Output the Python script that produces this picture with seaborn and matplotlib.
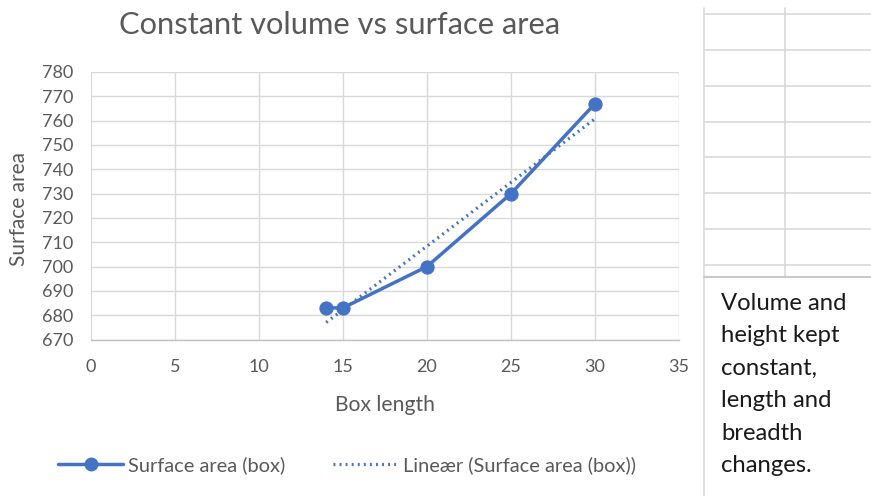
import numpy as np
import pandas as pd
import matplotlib
matplotlib.use("Agg")
import matplotlib.pyplot as plt
from matplotlib.lines import Line2D
import seaborn as sns

# ---- data ----
box_length = [14, 15, 20, 25, 30]
surface_area = [683, 683, 700, 730, 767]
x_ticks = [0, 5, 10, 15, 20, 25, 30, 35]
y_ticks = [670, 680, 690, 700, 710, 720, 730, 740, 750, 760, 770, 780]
title = "Constant volume vs surface area"
x_label = "Box length"
y_label = "Surface area"
series_name = "Surface area (box)"
trend_name = "Lineær (Surface area (box))"
note_lines = ["Volume and", "height kept", "constant,", "length and", "breadth", "changes."]

sns.set_theme(style="white")
plt.rcParams['font.family'] = ['Lato', 'DejaVu Sans']

BLUE = "#4472C4"
GRID = "#D9D9D9"
TXT = "#595959"

W, H = 871, 496
fig = plt.figure(figsize=(W / 100, H / 100), dpi=100)
fig.patch.set_facecolor("white")

left, right, top, bottom = 91, 679, 72, 339.5
ax = fig.add_axes([left / W, 1 - bottom / H, (right - left) / W, (bottom - top) / H])
ax.set_facecolor("white")

df = pd.DataFrame({"x": box_length, "y": surface_area})
# linear trend line (least squares fit of the series)
coef = np.polyfit(df["x"], df["y"], 1)
tx = np.array([min(box_length), max(box_length)])
trend = pd.DataFrame({"x": tx, "y": np.polyval(coef, tx)})

sns.lineplot(data=trend, x="x", y="y", ax=ax, color=BLUE, lw=2.3,
             linestyle=(0, (0.6, 1.3)), dash_capstyle="butt", zorder=3)
sns.lineplot(data=df, x="x", y="y", ax=ax, color=BLUE, lw=2.5, marker="o",
             markersize=9.5, markeredgecolor=BLUE, zorder=4)

ax.set_xlim(0, 35)
ax.set_ylim(670, 780)
ax.set_xticks(x_ticks)
ax.set_yticks(y_ticks)
ax.grid(True, color=GRID, lw=1.0)
ax.set_axisbelow(True)
for s in ["top", "left", "right"]:
    ax.spines[s].set_visible(False)
ax.spines["bottom"].set_color("#BFBFBF")
ax.spines["bottom"].set_linewidth(1.0)
ax.tick_params(axis="both", length=0, labelsize=13, colors=TXT)
ax.tick_params(axis="x", pad=14)
ax.tick_params(axis="y", pad=13)
ax.set_xlabel("")
ax.set_ylabel("")

fig.text(385 / W, 1 - 405 / H, x_label, ha="center", va="center", fontsize=15.2, color=TXT)
fig.text(19 / W, 1 - 209 / H, y_label, ha="center", va="center", rotation=90,
         fontsize=15, color=TXT)
fig.text(340 / W, 1 - 25 / H, title, ha="center", va="center", fontsize=22.2, color=TXT)

handles = [
    Line2D([], [], color=BLUE, lw=2.5, marker="o", markersize=9),
    Line2D([], [], color=BLUE, lw=2.3, linestyle=(0, (0.6, 1.3))),
]
leg = fig.legend(handles, [series_name, trend_name], loc="center",
                 bbox_to_anchor=(347 / W, 1 - 465 / H), ncol=2, frameon=False,
                 fontsize=14.4, handlelength=3.25, handletextpad=0.25,
                 columnspacing=2.35, labelcolor=TXT)

# spreadsheet grid & text box on the right
CELL = "#D9D9D9"
def vline(x, y0, y1, c=CELL, lw=1.2):
    fig.add_artist(Line2D([x / W, x / W], [1 - y0 / H, 1 - y1 / H], color=c, lw=lw))
def hline(y, x0, x1, c=CELL, lw=1.2):
    fig.add_artist(Line2D([x0 / W, x1 / W], [1 - y / H, 1 - y / H], color=c, lw=lw))

vline(704, 8, 496)
vline(785, 8, 277)
for yy in [14, 50, 86, 122, 157, 193, 229, 265]:
    hline(yy, 704, 871)
hline(277, 704, 871, c="#BFBFBF")

for i, line in enumerate(note_lines):
    fig.text(721 / W, 1 - (303 + i * 32.5) / H, line, ha="left", va="center",
             fontsize=17.2, color="#1A1A1A")

fig.savefig("out.png", dpi=100, facecolor="white")
